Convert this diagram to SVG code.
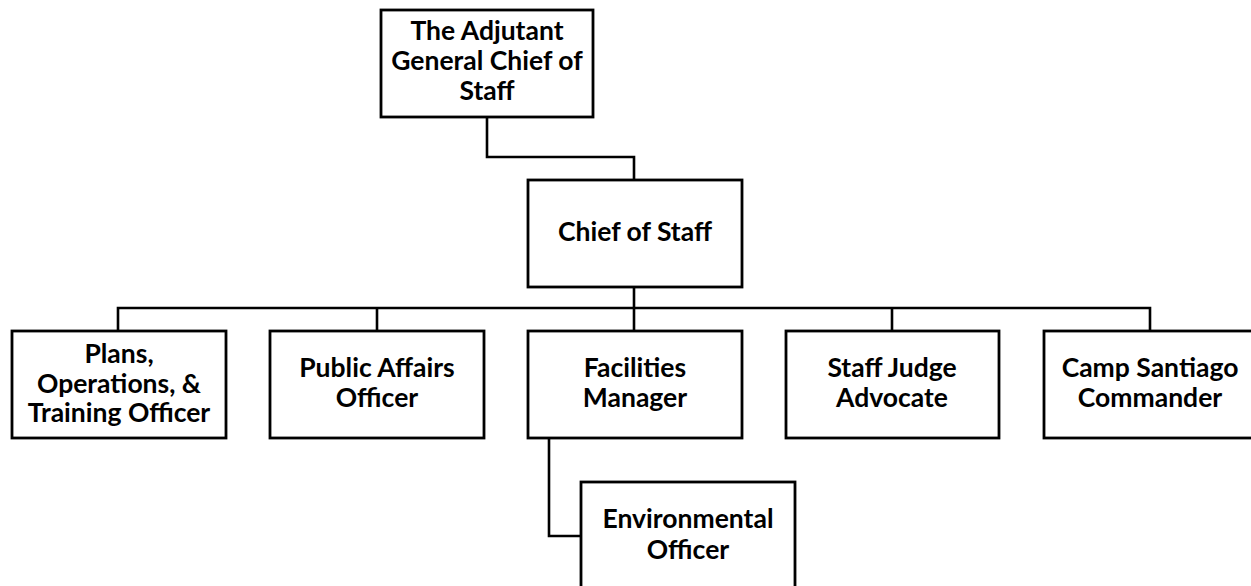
<svg xmlns="http://www.w3.org/2000/svg" width="1251" height="586" viewBox="0 0 1251 586">
  <style>
    .box { fill: #ffffff; stroke: #000000; stroke-width: 2.8; }
    .link { fill: none; stroke: #000000; stroke-width: 2.6; }
    .label { font-family: Lato, "Liberation Sans", sans-serif; font-weight: bold; font-size: 26.5px; fill: #000000; text-anchor: middle; }
  </style>
  <rect width="1251" height="586" fill="#ffffff"/>

  <!-- reporting lines -->
  <g id="connectors">
    <polyline class="link" points="487,117 487,157 634,157 634,180"/>
    <line class="link" x1="634" y1="287" x2="634" y2="308"/>
    <polyline class="link" points="118,331 118,308 1150,308 1150,331"/>
    <line class="link" x1="377" y1="308" x2="377" y2="331"/>
    <line class="link" x1="634" y1="308" x2="634" y2="331"/>
    <line class="link" x1="892" y1="308" x2="892" y2="331"/>
    <polyline class="link" points="549,438 549,536 581,536"/>
  </g>

  <g id="adjutant-general">
    <rect class="box" x="381" y="10" width="212" height="107"/>
    <text class="label" x="487" y="40">The Adjutant</text>
    <text class="label" x="487" y="70">General Chief of</text>
    <text class="label" x="487" y="100">Staff</text>
  </g>

  <g id="chief-of-staff">
    <rect class="box" x="528" y="180" width="214" height="107"/>
    <text class="label" x="635" y="241">Chief of Staff</text>
  </g>

  <g id="plans-operations-training">
    <rect class="box" x="12" y="331" width="214" height="107"/>
    <text class="label" x="119" y="363">Plans,</text>
    <text class="label" x="119" y="393">Operations, &amp;</text>
    <text class="label" x="119" y="422">Training Officer</text>
  </g>

  <g id="public-affairs">
    <rect class="box" x="270" y="331" width="214" height="107"/>
    <text class="label" x="377" y="377">Public Affairs</text>
    <text class="label" x="377" y="407">Officer</text>
  </g>

  <g id="facilities-manager">
    <rect class="box" x="528" y="331" width="214" height="107"/>
    <text class="label" x="635" y="377">Facilities</text>
    <text class="label" x="635" y="407">Manager</text>
  </g>

  <g id="staff-judge-advocate">
    <rect class="box" x="786" y="331" width="213" height="107"/>
    <text class="label" x="892" y="377">Staff Judge</text>
    <text class="label" x="892" y="407">Advocate</text>
  </g>

  <g id="camp-santiago-commander">
    <rect class="box" x="1044" y="331" width="214" height="107"/>
    <text class="label" x="1150" y="377">Camp Santiago</text>
    <text class="label" x="1150" y="407">Commander</text>
  </g>

  <g id="environmental-officer">
    <rect class="box" x="581" y="482" width="214" height="107"/>
    <text class="label" x="688" y="528">Environmental</text>
    <text class="label" x="688" y="559">Officer</text>
  </g>
</svg>
